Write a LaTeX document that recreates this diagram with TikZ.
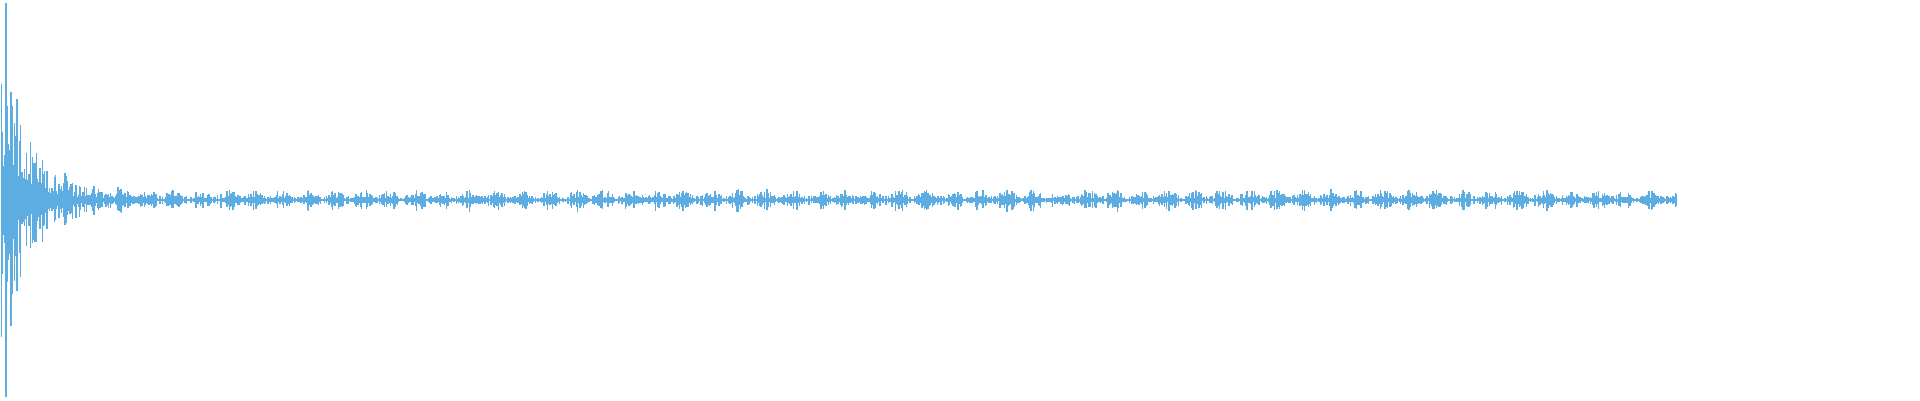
\documentclass[tikz,border=0pt]{standalone}
\begin{document}
\definecolor{wave}{RGB}{93,173,226}
\begin{tikzpicture}[x=1pt,y=1pt,bar/.style={draw=wave,line width=1.3pt}]
\useasboundingbox (0,0) rectangle (1920,400);
\pgfmathsetseed{11}
\foreach \i in {0,...,1396}{
  \pgfmathsetmacro{\xx}{1.5+\i*1.2}
  \pgfmathsetmacro{\env}{180*exp(-\xx/28)+4+7*abs(sin(\xx*6.7))^2}
  \pgfmathsetmacro{\r}{0.2+0.8*rnd^1.3}
  \pgfmathsetmacro{\up}{\env*\r}
  \pgfmathsetmacro{\dn}{\env*(\r*(0.8+0.4*rnd))}
  \draw[bar] (\xx,200+\up) -- (\xx,200-\dn);
}
\coordinate (st) at (6,397);
\coordinate (sb) at (6,3);
\draw[bar] (st) -- (sb);
\end{tikzpicture}
\end{document}
